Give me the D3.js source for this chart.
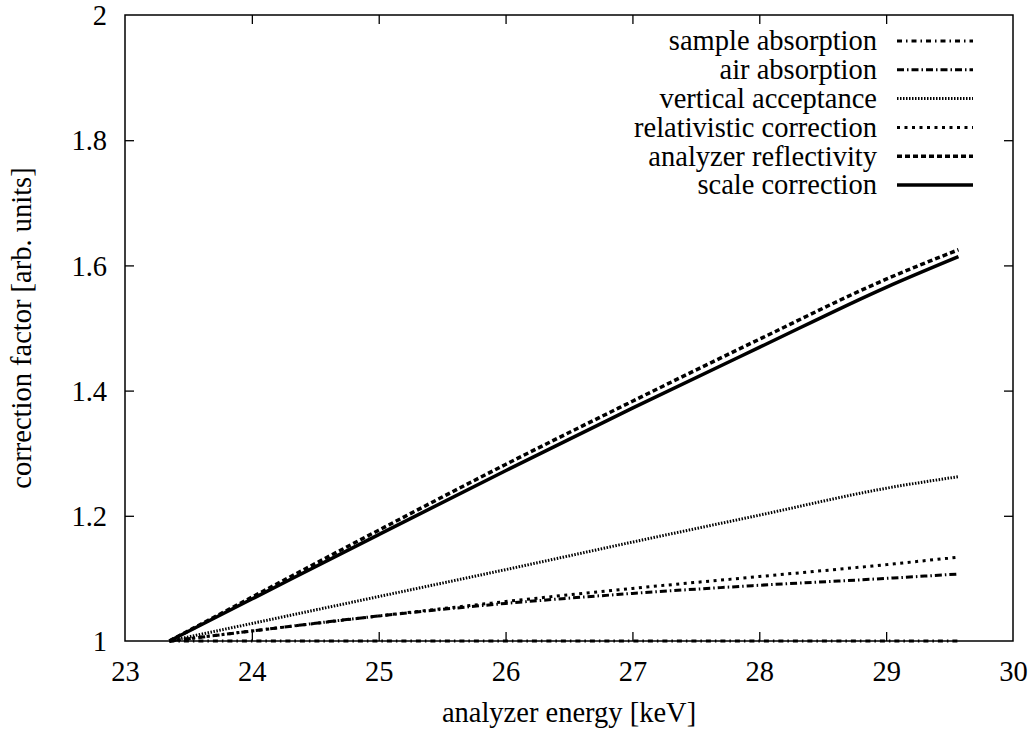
<!DOCTYPE html>
<html>
<head>
<meta charset="utf-8">
<script src="https://cdn.jsdelivr.net/npm/d3@7"></script>
</head>
<body style="margin:0;padding:0;background:#fff">
<svg id="chart" width="1032" height="736" style="display:block"></svg>
<script>
// Energy grid (keV) shared by all correction curves
const energy = [23.35, 24.0, 25.0, 26.0, 27.0, 28.0, 29.0, 29.57];

// Correction factors per energy point
const sampleAbsorption   = [1.0, 1.0, 1.0, 1.0, 1.0, 1.0, 1.0, 1.0];
const airAbsorption      = [1.0, 1.016, 1.040, 1.060, 1.076, 1.089, 1.100, 1.107];
const verticalAcceptance = [1.0, 1.028, 1.071, 1.114, 1.158, 1.201, 1.244, 1.2625];
const relativistic       = [1.0, 1.016, 1.040, 1.063, 1.084, 1.103, 1.122, 1.134];
const analyzerReflect    = [1.0, 1.070, 1.177, 1.282, 1.383, 1.482, 1.578, 1.625];
const scaleCorrection    = [1.0, 1.067, 1.170, 1.272, 1.372, 1.469, 1.565, 1.614];

const seriesNames = [
  "sample absorption",
  "air absorption",
  "vertical acceptance",
  "relativistic correction",
  "analyzer reflectivity",
  "scale correction"
];
const seriesValues = [sampleAbsorption, airAbsorption, verticalAcceptance,
                      relativistic, analyzerReflect, scaleCorrection];

const xTicks = [23, 24, 25, 26, 27, 28, 29, 30];
const yTicks = [1, 1.2, 1.4, 1.6, 1.8, 2];

// Line styles: dash pattern and stroke width
const styles = [
  { dash: "5,4,1.5,4", width: 3 },
  { dash: "7,3,1.5,3", width: 3 },
  { dash: "1.5,1.5",   width: 3 },
  { dash: "3,4.5",     width: 3 },
  { dash: "5,3",       width: 3.5 },
  { dash: null,        width: 3.5 }
];

const serif = "Liberation Serif, Tinos, Nimbus Roman, DejaVu Serif, Noto Serif, serif";
const fontSize = "28.5px";
const svg = d3.select("#chart");
const W = 1032, H = 736;
const margin = { left: 125, right: W - 1013, top: 15, bottom: H - 641 };

const x = d3.scaleLinear().domain([23, 30]).range([margin.left, W - margin.right]);
const y = d3.scaleLinear().domain([1, 2]).range([H - margin.bottom, margin.top]);

const tickLen = 9;

// Axes with inward ticks on all four sides
const axisStyle = g => {
  g.attr("font-family", serif).attr("font-size", fontSize);
  g.select(".domain").remove();
  g.selectAll(".tick line").attr("stroke", "#000").attr("stroke-width", 1.3);
  g.selectAll(".tick text").attr("fill", "#000");
};
const dropCornerTicks = g =>
  g.selectAll(".tick").filter(d => d === 23 || d === 30 || d === 1 || d === 2)
    .select("line").remove();

svg.append("g")
  .attr("transform", `translate(0,${y(1)})`)
  .call(d3.axisBottom(x).tickValues(xTicks).tickFormat(d3.format("d"))
        .tickSizeInner(-tickLen).tickSizeOuter(0))
  .call(axisStyle)
  .call(dropCornerTicks)
  .call(g => g.selectAll(".tick text").attr("y", 40).attr("dy", null));

svg.append("g")
  .attr("transform", `translate(0,${y(2)})`)
  .call(d3.axisTop(x).tickValues(xTicks).tickFormat("").tickSizeInner(-tickLen).tickSizeOuter(0))
  .call(axisStyle)
  .call(dropCornerTicks);

svg.append("g")
  .attr("transform", `translate(${x(23)},0)`)
  .call(d3.axisLeft(y).tickValues(yTicks).tickFormat(d => d3.format("~g")(d))
        .tickSizeInner(-tickLen).tickSizeOuter(0))
  .call(axisStyle)
  .call(dropCornerTicks)
  .call(g => g.selectAll(".tick text").attr("x", -18).attr("dy", "0.34em"));

svg.append("g")
  .attr("transform", `translate(${x(30)},0)`)
  .call(d3.axisRight(y).tickValues(yTicks).tickFormat("").tickSizeInner(-tickLen).tickSizeOuter(0))
  .call(axisStyle)
  .call(dropCornerTicks);

// Curves
const line = d3.line()
  .x(d => x(d[0]))
  .y(d => y(d[1]))
  .curve(d3.curveMonotoneX);

const curves = svg.append("g");
seriesValues.forEach((vals, i) => {
  const pts = energy.map((e, k) => [e, vals[k]]);
  curves.append("path")
    .attr("d", line(pts))
    .attr("fill", "none")
    .attr("stroke", "#000")
    .attr("stroke-width", styles[i].width)
    .attr("stroke-dasharray", styles[i].dash)
    .attr("stroke-linecap", "butt")
    .attr("stroke-linejoin", "round");
});

// Frame
svg.append("rect")
  .attr("x", x(23)).attr("y", y(2))
  .attr("width", x(30) - x(23)).attr("height", y(1) - y(2))
  .attr("fill", "none").attr("stroke", "#000").attr("stroke-width", 1.5);

// Legend
const legend = svg.append("g")
  .attr("font-family", serif).attr("font-size", fontSize);
const legY0 = 41, legStep = 28.8;
seriesNames.forEach((name, i) => {
  const yy = legY0 + i * legStep;
  legend.append("text")
    .attr("x", 877).attr("y", yy).attr("dy", "0.33em")
    .attr("text-anchor", "end")
    .text(name);
  legend.append("line")
    .attr("x1", 897).attr("x2", 973).attr("y1", yy).attr("y2", yy)
    .attr("stroke", "#000")
    .attr("stroke-width", styles[i].width)
    .attr("stroke-dasharray", styles[i].dash);
});

// Axis titles
const titles = svg.append("g").attr("font-family", serif).attr("font-size", fontSize);
titles.append("text")
  .attr("x", (x(23) + x(30)) / 2).attr("y", 722)
  .attr("text-anchor", "middle")
  .text("analyzer energy [keV]");

titles.append("text")
  .attr("transform", `translate(31,${(y(1) + y(2)) / 2}) rotate(-90)`)
  .attr("text-anchor", "middle")
  .text("correction factor [arb. units]");
</script>
</body>
</html>
